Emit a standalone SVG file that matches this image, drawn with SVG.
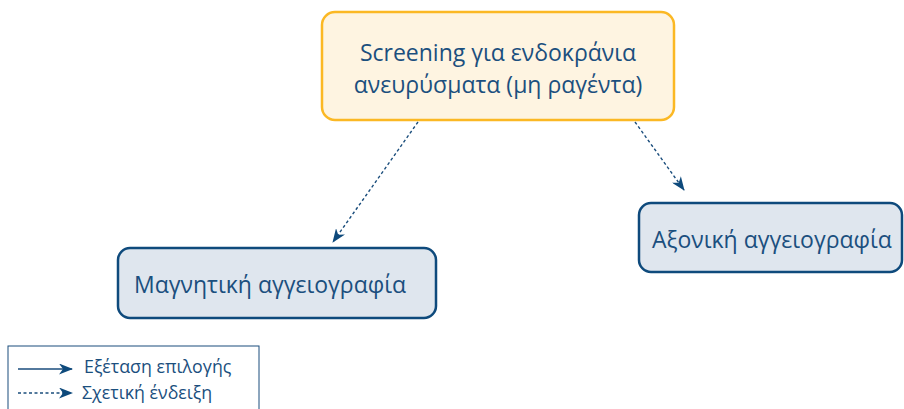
<svg xmlns="http://www.w3.org/2000/svg" width="904" height="409" viewBox="0 0 904 409">
<style>
text{font-family:"Open Sans","Noto Sans","DejaVu Sans",sans-serif;fill:#1b4f7e}
.n{font-size:23px}
.blue{fill:#dfe6ee;stroke:#0e4a7c;stroke-width:2.5}
.c{fill:none;stroke:#1a4d7c;stroke-width:1.4}
.d{stroke-dasharray:3 2.5}
.lg{font-size:17.8px}
</style>
<defs>
<marker id="ahl" viewBox="0 0 14 11" refX="13" refY="5.5" markerWidth="14" markerHeight="11" orient="auto" markerUnits="userSpaceOnUse">
<path d="M0,0 L14,5.5 L0,11 L4,5.5 Z" fill="#0e4a7c"/>
</marker>
</defs>
<rect width="904" height="409" fill="#ffffff"/>
<g id="connectors">
<line class="c d" x1="418" y1="122" x2="333" y2="242" marker-end="url(#ahl)"/>
<line class="c d" x1="635" y1="122" x2="684" y2="190" marker-end="url(#ahl)"/>
</g>
<g id="node-screening">
<rect x="322" y="12" width="352" height="108" rx="13" fill="#fef4e1" stroke="#fbb824" stroke-width="2.5"/>
<text class="n" x="498" y="61" text-anchor="middle">Screening για ενδοκράνια</text>
<text class="n" x="498" y="93" text-anchor="middle">ανευρύσματα (μη ραγέντα)</text>
</g>
<g id="node-mra">
<rect class="blue" x="118" y="248" width="318" height="70" rx="12"/>
<text class="n" x="134" y="293">Μαγνητική αγγειογραφία</text>
</g>
<g id="node-cta">
<rect class="blue" x="639" y="203" width="263" height="69" rx="12"/>
<text class="n" x="652" y="248">Αξονική αγγειογραφία</text>
</g>
<g id="legend">
<rect x="8" y="346" width="251" height="70" fill="none" stroke="#1a4d7c" stroke-width="1"/>
<line class="c" x1="18" y1="369" x2="72" y2="369" marker-end="url(#ahl)"/>
<text class="lg" x="84" y="373">Εξέταση επιλογής</text>
<line class="c d" x1="18" y1="393" x2="72" y2="393" marker-end="url(#ahl)"/>
<text class="lg" x="82" y="399">Σχετική ένδειξη</text>
</g>
</svg>
